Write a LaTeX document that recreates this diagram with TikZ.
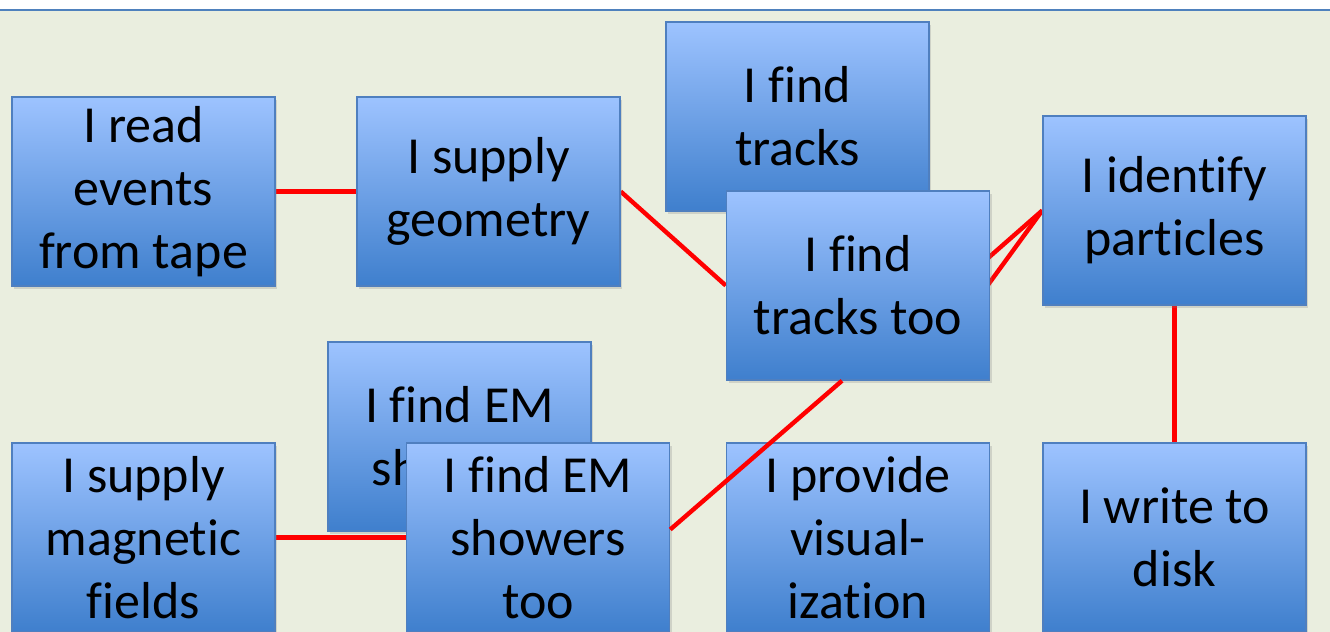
\documentclass[tikz,border=0pt]{standalone}
\usepackage{fontspec}
\setmainfont{Carlito}[Ligatures=NoCommon]
\usetikzlibrary{calc,shadows}
\usepackage{xcolor}
\definecolor{paper}{HTML}{EAEEDF}
\definecolor{rule}{HTML}{4F81BD}
\definecolor{boxtop}{HTML}{9DC3FF}
\definecolor{boxbot}{HTML}{3F7FCD}
\definecolor{boxline}{HTML}{4F7FBF}
\definecolor{wire}{HTML}{FF0000}
\pgfdeclarelayer{backdrop}
\pgfdeclarelayer{links}
\pgfsetlayers{backdrop,links,main}
\tikzset{
  task/.style={draw=boxline,line width=0.75pt,top color=boxtop,bottom color=boxbot,minimum width=131.5pt,minimum height=94.5pt,align=center,font=\fontsize{26}{31.5}\selectfont,drop shadow={shadow xshift=1pt,shadow yshift=-1.5pt,opacity=0.25}},
  link/.style={draw=wire,line width=2.2pt}
}

\begin{document}
\begin{tikzpicture}[x=0.5pt,y=-0.5pt]
  \useasboundingbox (0,0) rectangle (1330,632);
  \clip (0,0) rectangle (1330,632);
  \begin{pgfonlayer}{backdrop}
    \fill[white] (0,0) rectangle (1330,632);
    \fill[paper] (0,10) rectangle (1330,632);
    \draw[rule,line width=0.7pt] (0,10) -- (1330,10);
  \end{pgfonlayer}

  % top row
  \node[task] (tape) at (143.5,191.5) {I read\\events\\from tape};
  \node[task] (geom) at (488.5,191.5) {I supply\\geometry};
  \node[task] (tracksA) at (797.5,116.5) {I find\\tracks};
  \node[task] (tracksB) at (858,285.5) {I find\\tracks too};
  \node[task] (pid) at (1174.5,210.5) {I identify\\particles};
  % bottom row
  \node[task] (showersA) at (459.5,436.5) {I find EM\\showers};
  \node[task] (magnet) at (143.5,537.5) {I supply\\magnetic\\fields};
  \node[task] (showersB) at (538,537.5) {I find EM\\showers\\too};
  \node[task] (vis) at (858,537.5) {I provide\\visual-\\ization};
  \node[task] (disk) at (1174.5,537.5) {I write to\\disk};

  % ends hidden behind the tracking box
  \coordinate (hideA) at (930,309);
  \coordinate (hideB) at (950,337);

  \begin{pgfonlayer}{links}
    \draw[link] (tape.east) -- (geom.west);
    \draw[link] (geom.east) -- (tracksB.west);
    \draw[link] (pid.west) -- (hideA);
    \draw[link] (pid.west) -- (hideB);
    \draw[link] (magnet.east) -- (showersB.west);
    \draw[link] (pid.south) -- (disk.north);
  \end{pgfonlayer}
  % this one runs over the visualization box
  \draw[link] ($(showersB.east)+(0,-8)$) -- ($(tracksB.south)+(-16,0)$);
\end{tikzpicture}
\end{document}
